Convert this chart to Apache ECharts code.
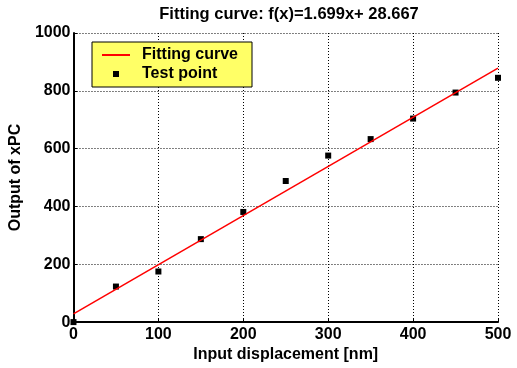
<!DOCTYPE html>
<html>
<head>
<meta charset="utf-8">
<script src="https://cdn.jsdelivr.net/npm/echarts@6/dist/echarts.min.js"></script>
<style>
html,body{margin:0;padding:0;background:#fff;}
#main{width:517px;height:368px;}
</style>
</head>
<body>
<div id="main"></div>
<script>
// measured test points
var inputX = [0, 50, 100, 150, 200, 250, 300, 350, 400, 450, 500];
var outputY = [0, 123, 175, 287, 381, 488, 576, 633, 704, 794, 845];
// fitted line end points, f(x)=1.699x+28.667
var fitX = [0, 500];
var fitY = [28.7, 878.2];
var xTicks = [0, 100, 200, 300, 400, 500];
var yTicks = [0, 200, 400, 600, 800, 1000];

var font = 'Arial, "Liberation Sans", sans-serif';

var pts = [];
for (var i = 0; i < inputX.length; i++) pts.push([inputX[i], outputY[i]]);
var fit = [];
for (var j = 0; j < fitX.length; j++) fit.push([fitX[j], fitY[j]]);

var chart = echarts.init(document.getElementById('main'));
var option = {
    backgroundColor: '#fff',
    animation: false,
    title: {
        text: 'Fitting curve: f(x)=1.699x+ 28.667',
        left: 284,
        textAlign: 'center',
        top: 1,
        textStyle: {fontFamily: font, fontSize: 16.5, fontWeight: 'bold', color: '#000'}
    },
    legend: {
        orient: 'vertical',
        left: 92,
        top: 42,
        padding: [5, 14, 5, 9],
        itemGap: 3,
        itemWidth: 28,
        itemHeight: 6,
        backgroundColor: '#ffff66',
        borderColor: '#000',
        borderWidth: 1,
        borderRadius: 0,
        textStyle: {fontFamily: font, fontSize: 16, fontWeight: 'bold', color: '#000', padding: [0, 0, 0, 7]},
        data: [
            {name: 'Fitting curve', itemStyle: {opacity: 0}},
            {name: 'Test point', icon: 'path://M0,0h1v1h-1z'}
        ]
    },
    grid: {left: 71, right: 19, top: 33, bottom: 40},
    xAxis: {
        type: 'value',
        min: 0, max: 500, interval: 100,
        name: 'Input displacement [nm]',
        nameLocation: 'middle',
        nameGap: 22,
        nameTextStyle: {fontFamily: font, fontSize: 16, fontWeight: 'bold', color: '#000'},
        axisLine: {lineStyle: {color: '#000', width: 2}},
        axisTick: {inside: true, length: 4, lineStyle: {color: '#000'}},
        axisLabel: {fontFamily: font, fontSize: 16, fontWeight: 'bold', color: '#000', margin: 4,
            formatter: function (v) { return xTicks.indexOf(v) >= 0 ? String(v) : ''; }},
        splitLine: {lineStyle: {color: '#000', type: [1, 2], width: 1}}
    },
    yAxis: {
        type: 'value',
        min: 0, max: 1000, interval: 200,
        name: 'Output of xPC',
        nameLocation: 'middle',
        nameGap: 41,
        nameTextStyle: {fontFamily: font, fontSize: 16, fontWeight: 'bold', color: '#000'},
        axisLine: {show: true, lineStyle: {color: '#000', width: 2}},
        axisTick: {show: true, inside: true, length: 4, lineStyle: {color: '#000'}},
        axisLabel: {fontFamily: font, fontSize: 16, fontWeight: 'bold', color: '#000', margin: 3,
            formatter: function (v) { return yTicks.indexOf(v) >= 0 ? String(v) : ''; }},
        splitLine: {lineStyle: {color: '#000', type: [1, 2], width: 1}}
    },
    series: [
        {
            name: 'Fitting curve',
            type: 'line',
            data: fit,
            symbol: 'none',
            lineStyle: {color: '#ff0000', width: 1.5},
            itemStyle: {color: '#ff0000'}
        },
        {
            name: 'Test point',
            type: 'scatter',
            data: pts,
            symbol: 'rect',
            symbolSize: 6,
            itemStyle: {color: '#000', opacity: 1}
        }
    ]
};
chart.setOption(option);
</script>
</body>
</html>
